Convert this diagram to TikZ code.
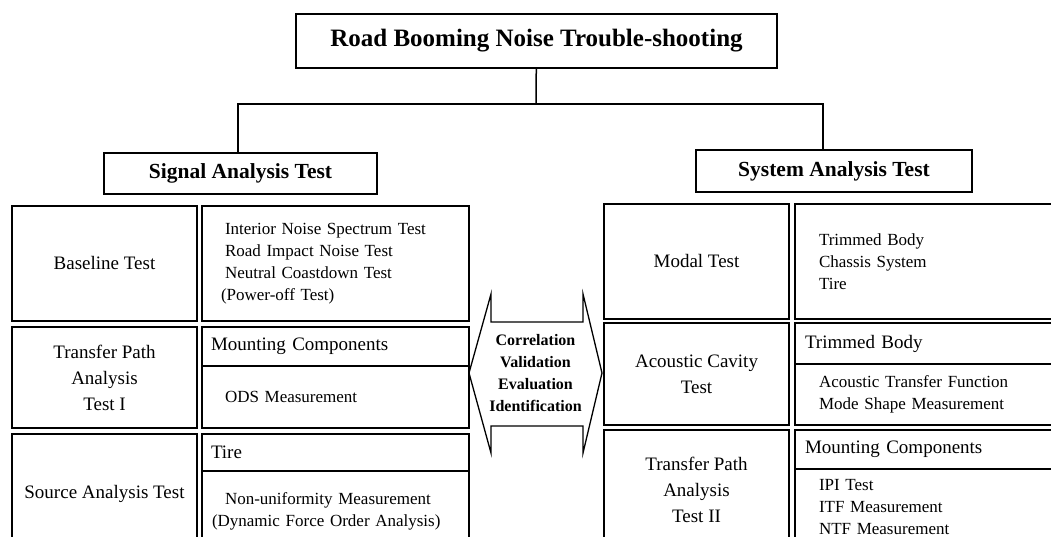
\documentclass[tikz,border=0pt]{standalone}
\usepackage{fontspec}
\setmainfont{Liberation Serif}
\usetikzlibrary{shapes}
\usetikzlibrary{positioning}

\begin{document}
\begin{tikzpicture}[x=1pt,y=-1pt]
	\tikzstyle{box}=[draw,line width=1.8pt,inner sep=0pt,outer sep=0pt]
	\tikzstyle{title}=[box,font=\bfseries\fontsize{25}{29}\selectfont]
	\tikzstyle{group}=[box,font=\bfseries\fontsize{21.5}{25}\selectfont]
	\tikzstyle{cell}=[box,align=center,minimum width=185pt,font=\fontsize{19}{26}\selectfont]
	\tikzstyle{head}=[box,align=left,inner xsep=9pt,text width=249pt,font=\fontsize{19}{23}\selectfont]
	\tikzstyle{list}=[box,align=left,inner xsep=23pt,text width=221pt,font=\fontsize{17}{22}\selectfont]
	\tikzstyle{rhead}=[head,inner xsep=10pt,text width=245pt]
	\tikzstyle{rlist}=[list,inner xsep=24pt,text width=217pt]
	\tikzstyle{line}=[line width=1.5pt]
	
	\useasboundingbox (0,0) rectangle (1051,537);
	\clip (0,0) rectangle (1051,537);
	
	\node[title,minimum width=481pt,minimum height=54pt] (root) at (536.5,41) {Road Booming Noise Trouble-shooting};
	\node[group,minimum width=273pt,minimum height=41pt] (sig) at (240.5,173.5) {Signal Analysis Test};
	\node[group,minimum width=276pt,minimum height=42pt] (sys) at (834,171) {System Analysis Test};
	
	\coordinate (fork) at (536,104);
	\draw[line] (root) -- (fork);
	\draw[line] ([xshift=-2.5pt]sig.north) |- (fork) -| ([xshift=-11pt]sys.north);
	
	\node[cell,minimum height=115pt] (base) at (104.5,263.5) {Baseline Test};
	\node[list,minimum height=115pt,right=5pt of base] (baseR) {Interior Noise Spectrum Test\\Road Impact Noise Test\\Neutral Coastdown Test\\\hspace*{-4pt}(Power-off Test)};
	\node[cell,minimum height=101pt,below=6pt of base] (tpa) {Transfer Path\\Analysis\\Test I};
	\node[head,minimum height=39pt,below=6pt of baseR] (mntL) {Mounting Components};
	\node[list,minimum height=62pt,below=0pt of mntL] (ods) {ODS Measurement};
	\node[cell,minimum height=120pt,below=6pt of tpa] (src) {Source Analysis Test};
	\node[head,minimum height=37pt,below=6pt of ods] (tireL) {Tire};
	\node[list,minimum height=81pt,below=0pt of tireL] (nonu) {Non-uniformity Measurement\\\hspace*{-13pt}(Dynamic Force Order Analysis)};
	
	\node[cell,minimum height=115pt] (modal) at (696.5,261.5) {Modal Test};
	\node[rlist,minimum height=115pt,right=6pt of modal] (modalR) {Trimmed Body\\Chassis System\\Tire};
	\node[cell,minimum height=102pt,below=4pt of modal] (acav) {Acoustic Cavity\\Test};
	\node[rhead,minimum height=41pt,below=4pt of modalR] (trimR) {Trimmed Body};
	\node[rlist,minimum height=61pt,below=0pt of trimR] (atf) {Acoustic Transfer Function\\Mode Shape Measurement};
	\node[cell,minimum height=120pt,below=5pt of acav] (tpa2) {Transfer Path\\Analysis\\Test II};
	\node[rhead,minimum height=39pt,below=5pt of atf] (mntR) {Mounting Components};
	\node[rlist,minimum height=77pt,below=0pt of mntR] (ipi) {IPI Test\\ITF Measurement\\NTF Measurement};
	
	\node[font=\bfseries\fontsize{16}{22}\selectfont,align=center] (corr) at (535.5,373) {Correlation\\Validation\\Evaluation\\Identification};
	\draw[line width=1.3pt] (469,373) -- (491,294) -- (491,322) -- (583,322) -- (583,294) -- (602,373) -- (583,453) -- (583,426) -- (491,426) -- (491,453) -- cycle;
	
\end{tikzpicture}
\end{document}
